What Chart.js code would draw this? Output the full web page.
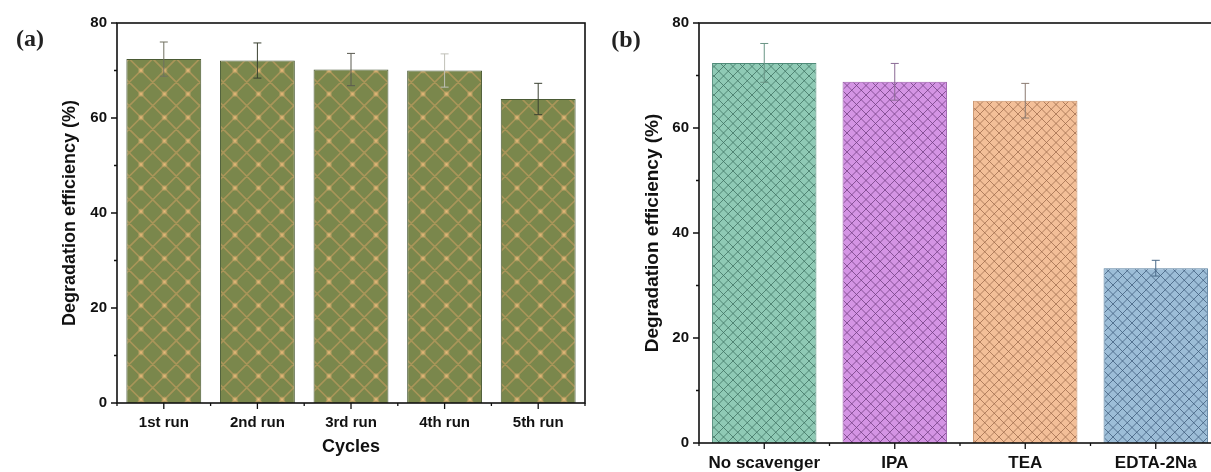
<!DOCTYPE html>
<html>
<head>
<meta charset="utf-8">
<script src="https://cdn.jsdelivr.net/npm/chart.js@4.4.1/dist/chart.umd.min.js"></script>
<style>
html, body { margin: 0; padding: 0; background: #fff; overflow: hidden; width: 1211px; height: 472px; }
#wa { position: absolute; left: 0; top: 0; width: 600px; height: 472px; }
#wb { position: absolute; left: 600px; top: 0; width: 640px; height: 472px; }
</style>
</head>
<body>
<div id="wa"><canvas id="chartA" width="600" height="472"></canvas></div>
<div id="wb"><canvas id="chartB" width="640" height="472"></canvas></div>
<script>
// panel (a): recycling runs
const runs = ['1st run', '2nd run', '3rd run', '4th run', '5th run'];
const runEff = [72.4, 72.1, 70.2, 70.0, 64.0];
const runErr = [3.6, 3.7, 3.4, 3.5, 3.3];

// panel (b): scavenger tests
const scavengers = ['No scavenger', 'IPA', 'TEA', 'EDTA-2Na'];
const scavEff = [72.4, 68.8, 65.2, 33.3];
const scavErr = [3.7, 3.5, 3.3, 1.5];

const yTicks = [0, 20, 40, 60, 80];

Chart.defaults.font.family = '"Liberation Sans", Arial, sans-serif';
Chart.defaults.color = '#111';

// diagonal cross-hatch tile, optional dots on the lattice
function hatch(size, pitch, bg, line, lw, dot) {
  const c = document.createElement('canvas');
  c.width = c.height = size;
  const g = c.getContext('2d');
  g.fillStyle = bg;
  g.fillRect(0, 0, size, size);
  g.strokeStyle = line;
  g.lineWidth = lw;
  g.beginPath();
  for (let i = -2 * Math.round(size / pitch); i <= 3 * Math.round(size / pitch); i++) {
    const k = i * pitch;
    g.moveTo(k, 0); g.lineTo(k - size, size);
    g.moveTo(k, 0); g.lineTo(k + size, size);
  }
  g.stroke();
  if (dot) {
    for (let x = 0; x <= size + 0.1; x += pitch)
      for (let y = 0; y <= size + 0.1; y += pitch) {
        const rg = g.createRadialGradient(x, y, 0, x, y, 3.5);
        rg.addColorStop(0, dot);
        rg.addColorStop(1, 'rgba(233,184,122,0)');
        g.fillStyle = rg;
        g.beginPath(); g.arc(x, y, 3.5, 0, Math.PI * 2); g.fill();
      }
  }
  return g.createPattern(c, 'repeat');
}

const errorBars = {
  id: 'errorBars',
  afterDatasetsDraw(chart, args, opts) {
    const { ctx, scales: { y } } = chart;
    const vals = chart.data.datasets[0].data;
    ctx.save();
    ctx.lineWidth = 1;
    chart.getDatasetMeta(0).data.forEach((bar, i) => {
      const e = opts.errors[i];
      const top = y.getPixelForValue(vals[i] + e), bot = y.getPixelForValue(vals[i] - e);
      ctx.strokeStyle = opts.colors[i];
      ctx.beginPath();
      ctx.moveTo(bar.x, top); ctx.lineTo(bar.x, bot);
      ctx.moveTo(bar.x - opts.cap, top); ctx.lineTo(bar.x + opts.cap, top);
      ctx.moveTo(bar.x - opts.cap, bot); ctx.lineTo(bar.x + opts.cap, bot);
      ctx.stroke();
    });
    ctx.restore();
  }
};

// box around the plot, outward tick marks, panel tag
const frame = {
  id: 'frame',
  afterDraw(chart, args, opts) {
    const { ctx, chartArea: a, scales: { x, y } } = chart;
    ctx.save();
    ctx.strokeStyle = '#111';
    ctx.lineWidth = 1.6;
    ctx.strokeRect(a.left, a.top, a.right - a.left, a.bottom - a.top);
    ctx.lineWidth = 1.3;
    ctx.beginPath();
    for (let v = 0; v <= 80; v += 10) {
      const py = y.getPixelForValue(v), len = yTicks.includes(v) ? 6 : 3;
      ctx.moveTo(a.left - len, py); ctx.lineTo(a.left, py);
    }
    const n = chart.data.labels.length;
    for (let i = 0; i < n; i++) {
      const px = x.getPixelForValue(i);
      ctx.moveTo(px, a.bottom); ctx.lineTo(px, a.bottom + 6);
    }
    for (let i = 0; i <= n; i++) {
      const px = x.getPixelForValue(i - 0.5);
      ctx.moveTo(px, a.bottom); ctx.lineTo(px, a.bottom + 3);
    }
    ctx.stroke();
    ctx.font = 'bold 24px "Liberation Serif", serif';
    ctx.fillStyle = '#222';
    ctx.textAlign = 'center';
    ctx.textBaseline = 'middle';
    ctx.fillText(opts.tag, opts.tagX, opts.tagY);
    ctx.restore();
  }
};

function yScale(width, titlePad, titleSize) {
  return {
    min: 0, max: 80,
    afterFit: s => { s.width = width; },
    grid: { display: false, drawTicks: false },
    border: { display: false },
    ticks: { stepSize: 10, padding: 10, font: { size: 15, weight: 'bold' },
      callback: v => yTicks.includes(v) ? v : '' },
    title: { display: true, text: 'Degradation efficiency (%)', font: { size: titleSize, weight: 'bold' },
      padding: { top: titlePad } }
  };
}

const olive = hatch(94, 23.5, '#7a874c', 'rgba(200,158,98,0.6)', 1.6, 'rgba(240,190,125,0.95)');

new Chart(document.getElementById('chartA'), {
  type: 'bar',
  data: {
    labels: runs,
    datasets: [{ data: runEff, backgroundColor: olive, borderColor: '#4a5a34', borderWidth: 1,
      barPercentage: 0.8, categoryPercentage: 1 }]
  },
  options: {
    responsive: false, animation: false,
    layout: { padding: { top: 23, right: 15, left: 0, bottom: 0 } },
    plugins: {
      legend: { display: false }, tooltip: { enabled: false },
      errorBars: { errors: runErr, cap: 4, colors: ['#707060', '#3a4030', '#5a5a50', '#c0c0b8', '#3a4030'] },
      frame: { tag: '(a)', tagX: 30, tagY: 40 }
    },
    scales: {
      x: {
        afterFit: s => { s.height = 69; },
        grid: { display: false, drawTicks: false },
        border: { display: false },
        ticks: { padding: 11, maxRotation: 0, font: { size: 15, weight: 'bold' } },
        title: { display: true, text: 'Cycles', font: { size: 18, weight: 'bold' }, padding: { bottom: 14 } }
      },
      y: yScale(117, 59, 18)
    }
  },
  plugins: [errorBars, frame]
});

const scavFills = [
  hatch(19, 9.5, '#8fcab5', 'rgba(60,110,95,0.75)', 1),
  hatch(19, 9.5, '#d494e4', 'rgba(110,60,125,0.75)', 1),
  hatch(19, 9.5, '#f3bf98', 'rgba(150,100,70,0.7)', 1),
  hatch(19, 9.5, '#9cbdd7', 'rgba(60,90,120,0.75)', 1)
];

new Chart(document.getElementById('chartB'), {
  type: 'bar',
  data: {
    labels: scavengers,
    datasets: [{ data: scavEff, backgroundColor: scavFills,
      borderColor: ['#4f8a78', '#9a5aaa', '#c89068', '#5a80a0'], borderWidth: 1,
      barPercentage: 0.8, categoryPercentage: 1 }]
  },
  options: {
    responsive: false, animation: false,
    layout: { padding: { top: 23, right: 19, left: 0, bottom: 0 } },
    plugins: {
      legend: { display: false }, tooltip: { enabled: false },
      errorBars: { errors: scavErr, cap: 4, colors: ['#6a9585', '#8a6a95', '#8a7a70', '#4a6a88'] },
      frame: { tag: '(b)', tagX: 26, tagY: 41 }
    },
    scales: {
      x: {
        afterFit: s => { s.height = 29; },
        grid: { display: false, drawTicks: false },
        border: { display: false },
        ticks: { padding: 10, maxRotation: 0, autoSkip: false, font: { size: 17, weight: 'bold' } }
      },
      y: yScale(99, 41, 19)
    }
  },
  plugins: [errorBars, frame]
});
</script>
</body>
</html>
